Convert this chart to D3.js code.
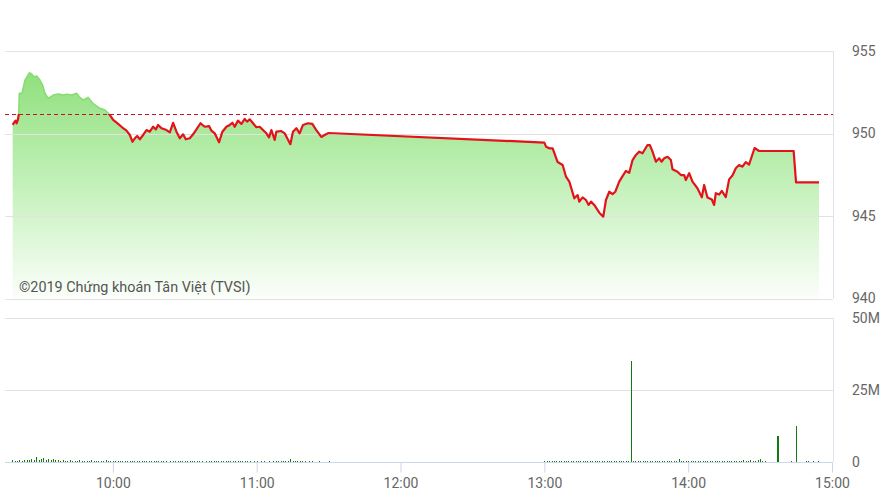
<!DOCTYPE html>
<html><head><meta charset="utf-8">
<script src="https://cdn.jsdelivr.net/npm/d3@7"></script>
<style>
body{margin:0;background:#fff;}
svg{display:block;font-family:Roboto,"Noto Sans",sans-serif;}
</style>
</head><body>
<svg id="c" width="890" height="500"></svg>
<script>
// ---------------- DATA ----------------
const priceTimes = [
"09:18:12","09:19:03","09:19:28","09:19:52","09:20:25","09:20:42","09:20:58","09:22:05","09:23:20","09:25:08",
"09:26:08","09:27:05","09:28:12","09:29:35","09:30:42","09:31:40","09:33:02","09:35:08","09:37:12","09:39:18",
"09:40:42","09:42:48","09:44:52","09:46:15","09:47:38","09:49:42","09:51:08","09:52:30","09:54:35","09:56:40",
"09:58:28","10:00:08","10:02:12","10:04:18","10:05:42","10:07:05","10:08:12","10:09:10","10:10:08","10:11:15",
"10:12:38","10:14:02","10:15:25","10:16:48","10:17:55","10:18:52","10:20:18","10:22:22","10:23:45","10:25:08",
"10:26:32","10:27:55","10:29:18","10:30:25","10:32:05","10:33:28","10:34:52","10:36:32","10:38:20","10:40:08",
"10:41:08","10:42:30","10:44:18","10:45:42","10:47:22","10:48:45","10:49:52","10:50:50","10:52:12","10:53:38",
"10:55:00","10:55:58","10:57:05","10:58:28","10:59:52","11:01:15","11:02:38","11:04:02","11:05:08","11:06:08",
"11:07:30","11:08:12","11:10:18","11:11:40","11:14:02","11:15:08","11:16:32","11:17:55","11:19:18","11:21:22",
"11:23:12","11:24:52","11:26:58","11:28:20","11:30:00","13:00:00","13:00:42","13:02:05","13:03:28","13:05:32",
"13:07:38","13:09:02","13:10:25","13:12:30","13:13:52","13:14:35","13:15:58","13:17:22","13:18:28","13:19:28",
"13:20:50","13:22:55","13:24:35","13:25:42","13:27:05","13:28:28","13:29:35","13:31:15","13:32:38","13:34:02",
"13:35:25","13:36:48","13:38:12","13:39:35","13:40:58","13:43:02","13:44:02","13:45:08","13:46:32","13:47:55",
"13:48:52","13:50:00","13:51:22","13:52:48","13:53:28","13:55:32","13:56:58","13:58:20","13:59:02","14:00:25",
"14:01:48","14:03:52","14:05:42","14:06:40","14:08:02","14:09:52","14:10:50","14:11:32","14:12:55","14:14:02",
"14:15:42","14:17:05","14:18:28","14:19:52","14:21:15","14:22:38","14:24:02","14:25:25","14:27:42","14:29:35",
"14:44:00","14:45:00","14:54:35"
];
const priceValues = [
950.52,950.72,950.78,950.62,950.86,951.12,952.44,952.44,953.24,953.68,
953.61,953.44,953.48,953.24,952.94,952.44,952.13,952.33,952.39,952.33,
952.38,952.33,952.44,952.19,952.03,952.19,951.93,951.73,951.53,951.42,
951.18,950.82,950.58,950.32,950.17,949.91,949.50,949.71,949.85,949.65,
949.91,950.21,950.11,950.41,950.25,950.52,950.32,950.21,950.07,950.65,
950.11,949.71,949.95,949.65,949.71,949.95,950.25,950.62,950.41,950.45,
950.17,950.01,949.47,950.11,950.41,950.52,950.65,950.41,950.78,950.58,
950.88,950.72,950.86,950.62,950.38,950.41,950.21,950.01,949.77,950.21,
949.61,950.11,950.15,950.01,949.35,950.11,950.32,950.01,950.52,950.62,
950.58,950.21,949.79,949.91,950.03,949.45,949.20,949.10,949.10,948.27,
948.09,947.38,947.08,946.07,946.27,945.87,946.13,945.97,945.67,945.87,
945.67,945.20,944.96,945.97,946.47,946.33,946.47,947.08,947.42,947.73,
947.62,948.39,948.70,948.90,948.80,949.30,949.30,948.90,948.29,948.50,
948.29,948.50,948.59,948.39,947.83,947.68,947.48,947.48,947.18,947.59,
947.08,946.68,946.13,946.88,946.12,946.00,945.67,946.38,946.30,946.52,
946.15,947.22,947.45,947.89,948.09,947.99,948.27,948.12,949.12,948.94,
948.94,947.04,947.04
];
const refPrice = 951.18;

// per-minute volume (millions), morning session from 09:15
const volAMStart = "09:15";
const volAM = [
0,0,0,0.6,0.4,0.5,0.7,0.5,0.6,0.8,
0.6,1.0,0.7,1.6,0.8,0.9,1.3,0.7,1.1,0.8,
1.2,0.6,0.7,0.5,0.6,0.4,0.5,0.6,0.4,0.5,
0.3,0.6,0.4,0.5,0.3,0.4,0.6,0.5,0.4,0.3,
0.5,0.4,0.6,0.5,0.4,0.3,0.4,0.5,0.3,0.4,
0.3,0.4,0.2,0.5,0.3,0.4,0.3,0.2,0.4,0.3,
0.5,0.3,0.2,0.4,0.3,0.2,0.3,0.4,0,0.3,
0.2,0.3,0.4,0.2,0.3,0.2,0.4,0.3,0.2,0.3,
0.2,0.4,0.3,0,0.3,0.2,0.5,0.3,0.2,0.3,
0.2,0.3,0.2,0.4,0.3,0.2,0.3,0.2,0.3,0.4,
0.3,0.2,0.3,0,0.2,0.3,0,0.2,0.3,0,
0.2,0,0.3,0.2,0.3,0.4,0.3,0.5,0.3,1.1,
0.4,0.3,0.2,0.3,0.4,0.3,0,0.2,0.3,0,
0,0.2,0,0,0,0.4
];
// per-minute volume (millions), afternoon session from 13:00
const volPMStart = "13:00";
const volPM = [
0.3,0.2,0.3,0.4,0.3,0.2,0.3,0.4,0.3,0.5,
0.3,0.4,0.3,0.5,0.3,0.4,0.5,0.3,0.4,0.3,
0.4,0.3,0.5,0.4,0.3,0.4,0.3,0.5,0.3,0.4,
0.3,0.4,0.3,0.2,0.3,0.4,35,0.4,0.3,0.4,
0.3,0.4,0.3,0.5,0.3,0.4,0.3,0.4,0.3,0.4,
0.3,0.4,0.3,0.4,0.5,0.3,0.9,0.4,0.3,0.4,
0.3,0.4,0.3,0.4,0.3,0.5,0.4,0.3,0.4,0.3,
0.4,0.3,0.4,0.3,0.5,0.4,0.3,0.4,0.3,0.5,
0.4,0.5,0.4,0.6,0.5,0.4,0.6,0.5,0.4,0.6,
1.0,0.5,0.3,0,0,0,0,9,0,0,
0,0,0,0.3,0,12.5,0,0,0,0.3,
0.3,0,0.3,0,0.3,0
];

const timeTicks = ["10:00","11:00","12:00","13:00","14:00","15:00"];
const priceTicks = [940,945,950,955];
const volTicks = [0,25,50];
const volTickLabels = ["0","25M","50M"];
const copyright = "©2019 Chứng khoán Tân Việt (TVSI)";

// ---------------- CHART ----------------
const svg = d3.select("#c");
const pHMS = d3.timeParse("%H:%M:%S"), pHM = d3.timeParse("%H:%M");
const plotL = 5, plotR = 833;

const x = d3.scaleTime().domain([pHM("09:15"), pHM("15:00")]).range([5, 832]);
const yP = d3.scaleLinear().domain([940, 955]).range([298.5, 51]);
const yV = d3.scaleLinear().domain([0, 50]).range([462, 318]);

const priceData = priceTimes.map((t, i) => ({t: pHMS(t), v: priceValues[i]}));
const volData = [];
volAM.forEach((v, i) => volData.push({t: d3.timeMinute.offset(pHM(volAMStart), i), v}));
volPM.forEach((v, i) => volData.push({t: d3.timeMinute.offset(pHM(volPMStart), i), v}));

const defs = svg.append("defs");
const grad = defs.append("linearGradient").attr("id", "fillGrad")
  .attr("gradientUnits", "userSpaceOnUse").attr("x1", 0).attr("x2", 0)
  .attr("y1", yP(955)).attr("y2", yP(940));
grad.append("stop").attr("offset", 0).attr("stop-color", "#86dc72");
grad.append("stop").attr("offset", 0.45).attr("stop-color", "#b9eeae");
grad.append("stop").attr("offset", 1).attr("stop-color", "#fbfefa");

const yRef = yP(refPrice);
defs.append("clipPath").attr("id", "clipAbove").append("rect")
  .attr("x", 0).attr("y", 0).attr("width", 890).attr("height", yRef);
defs.append("clipPath").attr("id", "clipBelow").append("rect")
  .attr("x", 0).attr("y", yRef).attr("width", 890).attr("height", 500 - yRef);

// price area
const area = d3.area().x(d => x(d.t)).y0(yP(940)).y1(d => yP(d.v));
svg.append("path").datum(priceData).attr("d", area).attr("fill", "url(#fillGrad)");

// price gridlines
svg.append("g").selectAll("line").data(priceTicks).join("line")
  .attr("x1", plotL).attr("x2", plotR)
  .attr("y1", d => Math.round(yP(d)) + 0.5).attr("y2", d => Math.round(yP(d)) + 0.5)
  .attr("stroke", "#e2e2e2").attr("stroke-width", 1);
svg.append("line").attr("x1", plotR + 0.5).attr("x2", plotR + 0.5)
  .attr("y1", yP(955)).attr("y2", yP(940)).attr("stroke", "#dde3ec");

// reference dashed line
svg.append("line").attr("x1", plotL).attr("x2", plotR)
  .attr("y1", Math.round(yRef) + 0.5).attr("y2", Math.round(yRef) + 0.5)
  .attr("stroke", "#c8102e").attr("stroke-width", 1).attr("stroke-dasharray", "4,3");

// price line (green above ref, red below)
const line = d3.line().x(d => x(d.t)).y(d => yP(d.v));
svg.append("path").datum(priceData).attr("d", line).attr("fill", "none")
  .attr("stroke", "#86dc72").attr("stroke-width", 1.5).attr("clip-path", "url(#clipAbove)")
  .attr("stroke-linejoin", "round");
svg.append("path").datum(priceData).attr("d", line).attr("fill", "none")
  .attr("stroke", "#e3131b").attr("stroke-width", 2.2).attr("clip-path", "url(#clipBelow)")
  .attr("stroke-linejoin", "round");

// copyright
svg.append("text").attr("x", 19).attr("y", 292).attr("font-size", 14.4)
  .attr("fill", "#555").text(copyright);

// price axis labels
const axP = svg.append("g").attr("transform", `translate(${plotR},0)`)
  .call(d3.axisRight(yP).tickValues(priceTicks).tickSize(0).tickPadding(19).tickFormat(d3.format("d")));
axP.select(".domain").remove();
axP.selectAll("text").attr("font-size", 14).attr("fill", "#666").attr("font-family", "Roboto,'Noto Sans',sans-serif");

// volume gridlines
svg.append("g").selectAll("line").data(volTicks.filter(d => d > 0)).join("line")
  .attr("x1", plotL).attr("x2", plotR)
  .attr("y1", d => Math.round(yV(d)) + 0.5).attr("y2", d => Math.round(yV(d)) + 0.5)
  .attr("stroke", "#e2e2e2");
svg.append("line").attr("x1", plotR + 0.5).attr("x2", plotR + 0.5)
  .attr("y1", yV(50)).attr("y2", yV(0)).attr("stroke", "#dde3ec");

// volume bars
svg.append("g").selectAll("rect").data(volData.filter(d => d.v > 0)).join("rect")
  .attr("x", d => Math.round(x(d.t)))
  .attr("width", d => d.v > 5 && d.v < 10 ? 2 : 1)
  .attr("y", d => yV(d.v)).attr("height", d => yV(0) - yV(d.v))
  .attr("fill", "#137a13").attr("shape-rendering", "crispEdges");

// x axis
const axX = svg.append("g").attr("transform", `translate(0,${Math.round(yV(0)) + 0.5})`)
  .call(d3.axisBottom(x).tickValues(timeTicks.map(pHM)).tickFormat(d3.timeFormat("%H:%M"))
    .tickSize(10).tickSizeOuter(0).tickPadding(6));
axX.select(".domain").attr("stroke", "#ccd6eb").attr("d", `M${plotL},0H${plotR}`);
axX.selectAll(".tick line").attr("stroke", "#ccd6eb");
axX.selectAll("text").attr("font-size", 14).attr("fill", "#666").attr("font-family", "Roboto,'Noto Sans',sans-serif");

// volume axis labels
const axV = svg.append("g").attr("transform", `translate(${plotR},0)`)
  .call(d3.axisRight(yV).tickValues(volTicks).tickSize(0).tickPadding(19)
    .tickFormat((d, i) => volTickLabels[i]));
axV.select(".domain").remove();
axV.selectAll("text").attr("font-size", 14).attr("fill", "#666").attr("font-family", "Roboto,'Noto Sans',sans-serif");
</script>
</body></html>
